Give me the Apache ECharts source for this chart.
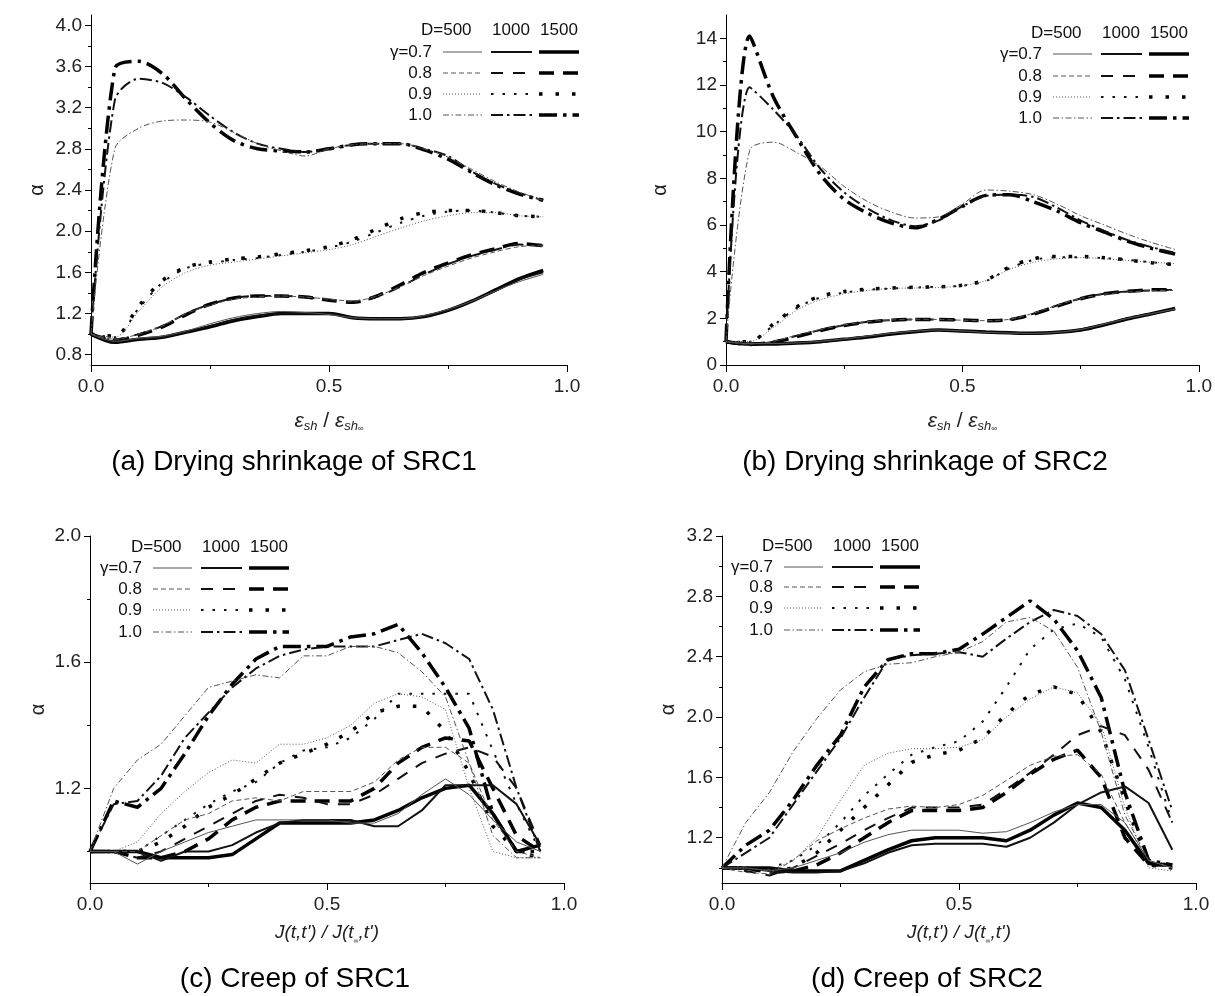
<!DOCTYPE html>
<html><head><meta charset="utf-8">
<script src="https://cdn.jsdelivr.net/npm/echarts@6/dist/echarts.min.js"></script>
<style>html,body{margin:0;padding:0;background:#fff}#c{width:1215px;height:996px}</style>
</head><body><div id="c"></div>
<script>
// ---------- shared x positions ----------
const X = [0,0.05,0.1,0.15,0.2,0.25,0.3,0.35,0.4,0.45,0.5,0.55,0.6,0.65,0.7,0.75,0.8,0.85,0.9,0.95];
const GAMMAS = ['0.7','0.8','0.9','1.0'];
const DS = [500,1000,1500];

// ---------- tick labels ----------
const xMajor = [0, 0.5, 1.0];
const xMinor = [0.25, 0.75];
const aYMajor = [0.8,1.2,1.6,2.0,2.4,2.8,3.2,3.6,4.0];
const aYMinor = [1.0,1.4,1.8,2.2,2.6,3.0,3.4,3.8];
const bYMajor = [0,2,4,6,8,10,12,14];
const bYMinor = [1,3,5,7,9,11,13];
const cYMajor = [1.2,1.6,2.0];
const cYMinor = [1.0,1.4,1.8];
const dYMajor = [1.2,1.6,2.0,2.4,2.8,3.2];
const dYMinor = [1.0,1.4,1.8,2.2,2.6,3.0];

// ---------- (a) Drying shrinkage of SRC1 ----------
const a07_500  = [1.0,0.93,0.96,0.98,1.03,1.10,1.16,1.20,1.22,1.21,1.19,1.16,1.15,1.15,1.18,1.24,1.32,1.42,1.51,1.58];
const a07_1000 = [1.0,0.93,0.95,0.97,1.02,1.08,1.14,1.18,1.20,1.20,1.20,1.16,1.15,1.15,1.17,1.23,1.32,1.42,1.53,1.60];
const a07_1500 = [1.0,0.92,0.95,0.97,1.02,1.07,1.13,1.17,1.20,1.20,1.20,1.16,1.15,1.15,1.17,1.23,1.32,1.43,1.54,1.62];
const a08_500  = [1.0,0.95,1.00,1.08,1.20,1.28,1.34,1.36,1.37,1.36,1.34,1.32,1.37,1.46,1.57,1.66,1.74,1.80,1.85,1.86];
const a08_1000 = [1.0,0.95,1.00,1.08,1.20,1.29,1.35,1.37,1.37,1.36,1.33,1.31,1.36,1.46,1.58,1.68,1.76,1.82,1.87,1.86];
const a08_1500 = [1.0,0.94,0.99,1.07,1.19,1.29,1.35,1.37,1.37,1.36,1.33,1.31,1.37,1.48,1.60,1.69,1.77,1.83,1.88,1.86];
const a09_500  = [1.0,0.97,1.22,1.46,1.60,1.67,1.70,1.73,1.76,1.79,1.82,1.87,1.95,2.03,2.10,2.15,2.18,2.18,2.15,2.14];
const a09_1000 = [1.0,0.97,1.25,1.50,1.64,1.69,1.72,1.74,1.77,1.80,1.84,1.90,1.99,2.08,2.15,2.19,2.20,2.18,2.15,2.14];
const a09_1500 = [1.0,0.98,1.27,1.52,1.65,1.70,1.73,1.75,1.78,1.81,1.85,1.92,2.02,2.12,2.18,2.20,2.20,2.18,2.15,2.14];
const a10_500  = [1.0,2.80,3.00,3.07,3.08,3.06,2.96,2.85,2.78,2.73,2.80,2.84,2.85,2.85,2.80,2.72,2.60,2.48,2.38,2.30];
const a10_1000 = [1.0,3.27,3.48,3.44,3.30,3.12,2.96,2.85,2.80,2.77,2.80,2.84,2.85,2.85,2.80,2.73,2.58,2.46,2.37,2.30];
const a10_1500 = [1.0,3.58,3.65,3.53,3.28,3.05,2.88,2.80,2.78,2.77,2.80,2.84,2.85,2.85,2.79,2.70,2.57,2.45,2.36,2.30];

// ---------- (b) Drying shrinkage of SRC2 ----------
const b07_500  = [1.0,0.92,0.92,0.95,1.02,1.12,1.24,1.36,1.45,1.50,1.46,1.40,1.37,1.35,1.40,1.52,1.75,2.00,2.20,2.40];
const b07_1000 = [1.0,0.90,0.92,0.95,1.00,1.10,1.22,1.35,1.45,1.50,1.45,1.40,1.38,1.35,1.40,1.52,1.75,2.00,2.20,2.40];
const b07_1500 = [1.0,0.90,0.90,0.94,1.00,1.10,1.20,1.33,1.43,1.50,1.46,1.41,1.38,1.36,1.40,1.50,1.72,1.98,2.20,2.42];
const b08_500  = [1.0,0.90,1.02,1.28,1.52,1.72,1.86,1.93,1.96,1.95,1.92,1.90,1.96,2.22,2.56,2.85,3.03,3.13,3.18,3.20];
const b08_1000 = [1.0,0.90,1.00,1.25,1.50,1.70,1.85,1.92,1.95,1.95,1.92,1.90,1.95,2.20,2.55,2.85,3.05,3.15,3.20,3.22];
const b08_1500 = [1.0,0.88,0.98,1.22,1.48,1.69,1.84,1.92,1.95,1.95,1.93,1.90,1.94,2.18,2.52,2.84,3.05,3.16,3.22,3.22];
const b09_500  = [1.0,1.00,1.60,2.35,2.80,3.05,3.20,3.28,3.30,3.32,3.40,3.62,4.10,4.40,4.55,4.60,4.55,4.48,4.40,4.35];
const b09_1000 = [1.0,1.00,1.70,2.45,2.90,3.10,3.22,3.28,3.32,3.35,3.40,3.60,4.15,4.50,4.62,4.62,4.58,4.50,4.40,4.30];
const b09_1500 = [1.0,1.00,1.75,2.50,2.95,3.15,3.25,3.30,3.33,3.35,3.42,3.65,4.20,4.55,4.65,4.65,4.60,4.50,4.38,4.30];
const b10_500  = [1.0,9.20,9.55,9.10,8.50,7.65,7.00,6.55,6.30,6.35,6.90,7.50,7.45,7.30,6.90,6.40,6.00,5.60,5.25,4.95];
const b10_1000 = [1.0,11.9,10.95,9.80,8.40,7.40,6.70,6.20,5.95,6.20,6.80,7.25,7.30,7.20,6.75,6.20,5.75,5.35,5.05,4.80];
const b10_1500 = [1.0,14.1,11.5,9.75,8.15,7.10,6.50,6.08,5.88,6.25,6.80,7.27,7.30,7.00,6.60,6.10,5.70,5.30,5.00,4.75];

// ---------- (c) Creep of SRC1 ----------
const c07_500  = [1.0,1.00,0.96,1.00,1.03,1.06,1.08,1.10,1.10,1.10,1.10,1.09,1.09,1.12,1.18,1.23,1.18,1.10,1.03,1.00];
const c07_1000 = [1.0,1.00,1.00,0.97,1.00,1.00,1.02,1.06,1.09,1.10,1.10,1.10,1.08,1.08,1.13,1.21,1.21,1.21,1.15,1.02];
const c07_1500 = [1.0,1.00,1.00,0.98,0.98,0.98,0.99,1.04,1.09,1.09,1.09,1.09,1.10,1.13,1.17,1.20,1.21,1.12,1.00,1.02];
const c08_500  = [1.0,1.00,1.00,1.05,1.10,1.12,1.16,1.17,1.16,1.19,1.19,1.19,1.22,1.29,1.33,1.33,1.28,1.10,1.00,0.98];
const c08_1000 = [1.0,1.00,0.98,1.00,1.04,1.08,1.12,1.16,1.18,1.17,1.15,1.15,1.18,1.23,1.28,1.31,1.33,1.30,1.20,1.02];
const c08_1500 = [1.0,1.00,0.98,0.98,1.00,1.04,1.10,1.14,1.16,1.16,1.16,1.16,1.20,1.28,1.33,1.36,1.35,1.20,1.05,1.00];
const c09_500  = [1.0,1.00,1.03,1.12,1.19,1.25,1.29,1.28,1.34,1.34,1.36,1.40,1.47,1.50,1.49,1.45,1.20,1.00,0.98,0.98];
const c09_1000 = [1.0,1.00,1.00,1.05,1.10,1.15,1.19,1.22,1.28,1.32,1.33,1.36,1.42,1.50,1.50,1.50,1.50,1.32,1.15,1.00];
const c09_1500 = [1.0,1.00,1.00,1.03,1.08,1.14,1.18,1.23,1.28,1.31,1.34,1.38,1.44,1.46,1.46,1.38,1.25,1.08,1.00,0.98];
const c10_500  = [1.0,1.20,1.29,1.34,1.43,1.52,1.54,1.56,1.55,1.62,1.62,1.65,1.65,1.63,1.57,1.49,1.28,1.05,0.98,0.98];
const c10_1000 = [1.0,1.15,1.16,1.24,1.36,1.44,1.52,1.58,1.62,1.64,1.65,1.65,1.65,1.67,1.69,1.66,1.61,1.45,1.20,1.00];
const c10_1500 = [1.0,1.16,1.14,1.20,1.31,1.43,1.53,1.61,1.65,1.65,1.65,1.68,1.69,1.72,1.63,1.52,1.39,1.12,1.00,1.00];

// ---------- (d) Creep of SRC2 ----------
const d07_500  = [1.0,1.00,0.98,1.00,1.05,1.10,1.17,1.22,1.25,1.25,1.25,1.23,1.24,1.30,1.37,1.42,1.42,1.30,1.05,1.00];
const d07_1000 = [1.0,1.00,0.98,0.97,0.97,0.98,1.03,1.10,1.15,1.16,1.16,1.16,1.14,1.20,1.30,1.42,1.50,1.54,1.43,1.12];
const d07_1500 = [1.0,1.00,1.00,0.98,0.98,0.98,1.05,1.12,1.18,1.20,1.20,1.20,1.18,1.25,1.35,1.43,1.40,1.25,1.03,1.02];
const d08_500  = [1.0,0.97,0.96,1.05,1.18,1.26,1.33,1.39,1.41,1.40,1.42,1.48,1.58,1.68,1.74,1.75,1.62,1.30,1.05,1.00];
const d08_1000 = [1.0,0.98,0.95,1.00,1.08,1.16,1.25,1.33,1.40,1.40,1.40,1.42,1.52,1.63,1.75,1.88,1.94,1.88,1.65,1.30];
const d08_1500 = [1.0,1.00,0.97,0.98,1.02,1.10,1.20,1.30,1.38,1.38,1.38,1.40,1.50,1.62,1.72,1.78,1.60,1.20,1.02,1.02];
const d09_500  = [1.0,1.00,0.98,1.05,1.20,1.45,1.68,1.76,1.79,1.79,1.80,1.85,2.00,2.12,2.20,2.16,1.95,1.40,1.00,0.98];
const d09_1000 = [1.0,1.00,1.00,1.05,1.15,1.30,1.48,1.62,1.75,1.80,1.84,1.97,2.20,2.45,2.58,2.62,2.53,2.25,1.80,1.30];
const d09_1500 = [1.0,1.00,0.97,1.00,1.10,1.25,1.40,1.55,1.70,1.75,1.78,1.86,2.02,2.15,2.20,2.15,1.90,1.45,1.02,1.00];
const d10_500  = [1.0,1.30,1.50,1.77,1.99,2.18,2.30,2.35,2.36,2.40,2.43,2.50,2.63,2.66,2.57,2.33,1.90,1.35,1.05,1.00];
const d10_1000 = [1.0,1.10,1.20,1.42,1.64,1.86,2.13,2.38,2.41,2.42,2.43,2.40,2.52,2.63,2.71,2.67,2.55,2.31,1.85,1.38];
const d10_1500 = [1.0,1.15,1.25,1.45,1.68,1.88,2.20,2.38,2.42,2.42,2.45,2.55,2.66,2.77,2.65,2.44,2.13,1.50,1.05,1.02];

const SETS = {
  a: {'0.7':{500:a07_500,1000:a07_1000,1500:a07_1500},'0.8':{500:a08_500,1000:a08_1000,1500:a08_1500},
      '0.9':{500:a09_500,1000:a09_1000,1500:a09_1500},'1.0':{500:a10_500,1000:a10_1000,1500:a10_1500}},
  b: {'0.7':{500:b07_500,1000:b07_1000,1500:b07_1500},'0.8':{500:b08_500,1000:b08_1000,1500:b08_1500},
      '0.9':{500:b09_500,1000:b09_1000,1500:b09_1500},'1.0':{500:b10_500,1000:b10_1000,1500:b10_1500}},
  c: {'0.7':{500:c07_500,1000:c07_1000,1500:c07_1500},'0.8':{500:c08_500,1000:c08_1000,1500:c08_1500},
      '0.9':{500:c09_500,1000:c09_1000,1500:c09_1500},'1.0':{500:c10_500,1000:c10_1000,1500:c10_1500}},
  d: {'0.7':{500:d07_500,1000:d07_1000,1500:d07_1500},'0.8':{500:d08_500,1000:d08_1000,1500:d08_1500},
      '0.9':{500:d09_500,1000:d09_1000,1500:d09_1500},'1.0':{500:d10_500,1000:d10_1000,1500:d10_1500}}
};

// ---------- styles ----------
const FONT = "'Liberation Sans', Arial, sans-serif";
const WIDTH = {500:1, 1000:2, 1500:3.5};
const COLOR = {500:'#555', 1000:'#111', 1500:'#000'};
const DASH = {
  '0.7': {500:'solid',1000:'solid',1500:'solid'},
  '0.8': {500:[5,3],1000:[12,10],1500:[15,9]},
  '0.9': {500:[1,2],1000:[2.5,9],1500:[3.5,13]},
  '1.0': {500:[6,2.5,1.5,2.5],1000:[12,4,2.5,4],1500:[18,6,3.5,6]}
};

const epsName = '{e|ε}{s|sh}{d| / }{e|ε}{s|sh}{i|∞}';
const epsRich = {
  e:{fontSize:21,fontStyle:'italic',fontFamily:FONT,color:'#222',lineHeight:24,verticalAlign:'middle'},
  s:{fontSize:13,fontStyle:'italic',fontFamily:FONT,color:'#222',lineHeight:12,verticalAlign:'bottom'},
  i:{fontSize:8,fontFamily:FONT,color:'#222',lineHeight:9,verticalAlign:'bottom'},
  d:{fontSize:21,fontFamily:FONT,color:'#222',lineHeight:24,verticalAlign:'middle'}
};
const jName = "{j|J(t,t') / J(t}{i|∞}{j|,t')}";
const jRich = {
  j:{fontSize:19,fontStyle:'italic',fontFamily:FONT,color:'#222',lineHeight:24,verticalAlign:'middle'},
  i:{fontSize:7,fontFamily:FONT,color:'#222',lineHeight:8,verticalAlign:'bottom'}
};

const PANELS = [
  {key:'a', grid:{left:91,top:15,width:476,height:350}, ymin:0.7, ymax:4.1, yMajor:aYMajor, yMinor:aYMinor, dec:1,
   smooth:0.3, xName:epsName, xRich:epsRich, xGap:44, yGap:44, caption:'(a) Drying shrinkage of SRC1', cap:[294,462], leg:[432,30,[52,73,94,115]]},
  {key:'b', grid:{left:726,top:15,width:473,height:350}, ymin:0, ymax:15, yMajor:bYMajor, yMinor:bYMinor, dec:0,
   smooth:0.3, xName:epsName, xRich:epsRich, xGap:44, yGap:56, caption:'(b) Drying shrinkage of SRC2', cap:[925,462], leg:[1042,33,[54,76,97,118]]},
  {key:'c', grid:{left:90,top:536,width:474,height:347}, ymin:0.9, ymax:2.0, yMajor:cYMajor, yMinor:cYMinor, dec:1,
   smooth:false, xName:jName, xRich:jRich, xGap:38, yGap:42, caption:'(c) Creep of SRC1', cap:[295,979], leg:[142,547,[568,589,610,632]]},
  {key:'d', grid:{left:722,top:536,width:474,height:347}, ymin:0.9, ymax:3.2, yMajor:dYMajor, yMinor:dYMinor, dec:1,
   smooth:false, xName:jName, xRich:jRich, xGap:38, yGap:44, caption:'(d) Creep of SRC2', cap:[927,979], leg:[773,546,[567,587,608,630]]}
];

const grids=[], xAxes=[], yAxes=[], series=[], graphics=[];
PANELS.forEach((p, gi) => {
  grids.push(Object.assign({containLabel:false}, p.grid));
  const axLine = {show:true, onZero:false, lineStyle:{color:'#000', width:1}};
  xAxes.push({type:'value', gridIndex:gi, min:0, max:1, position:'bottom',
    axisLine:axLine, splitLine:{show:false},
    axisTick:{show:true, length:7, customValues:xMajor, lineStyle:{color:'#000'}},
    axisLabel:{show:true, customValues:xMajor, formatter:v=>v.toFixed(1), fontSize:19, color:'#222', fontFamily:FONT, margin:12},
    name:p.xName, nameLocation:'middle', nameGap:p.xGap, nameTextStyle:{rich:p.xRich}});
  xAxes.push({type:'value', gridIndex:gi, min:0, max:1, position:'bottom',
    axisLine:{show:false}, splitLine:{show:false}, axisLabel:{show:false},
    axisTick:{show:true, length:4, customValues:xMinor, lineStyle:{color:'#000'}}});
  yAxes.push({type:'value', gridIndex:gi, min:p.ymin, max:p.ymax, position:'left',
    axisLine:axLine, splitLine:{show:false},
    axisTick:{show:true, length:6, customValues:p.yMajor, lineStyle:{color:'#000'}},
    axisLabel:{show:true, customValues:p.yMajor, formatter:v=>v.toFixed(p.dec), fontSize:19, color:'#222', fontFamily:FONT, margin:9},
    name:'α', nameLocation:'middle', nameRotate:90, nameGap:p.yGap,
    nameTextStyle:{fontSize:20, color:'#222', fontFamily:FONT}});
  yAxes.push({type:'value', gridIndex:gi, min:p.ymin, max:p.ymax, position:'left',
    axisLine:{show:false}, splitLine:{show:false}, axisLabel:{show:false},
    axisTick:{show:true, length:3, customValues:p.yMinor, lineStyle:{color:'#000'}}});

  const set = SETS[p.key];
  [1500,1000,500].forEach(D => {
    GAMMAS.forEach(g => {
      series.push({type:'line', name:p.key+' γ='+g+' D='+D, xAxisIndex:2*gi, yAxisIndex:2*gi,
        data:X.map((x,i)=>[x, set[g][D][i]]), symbol:'none', smooth:p.smooth, silent:true,
        lineStyle:{color:COLOR[D], width:WIDTH[D], type:DASH[g][D]}, z:2});
    });
  });

  // caption
  graphics.push({type:'text', x:p.cap[0], y:p.cap[1], silent:true,
    style:{text:p.caption, font:'28px '+FONT, fill:'#000', align:'center', verticalAlign:'middle'}});

  // legend table
  const [lx, hy, rows] = p.leg;
  graphics.push({type:'text', x:lx-11, y:hy, style:{text:'D=500', font:'17px '+FONT, fill:'#111', align:'left', verticalAlign:'middle'}});
  graphics.push({type:'text', x:lx+79, y:hy, style:{text:'1000', font:'17px '+FONT, fill:'#111', align:'center', verticalAlign:'middle'}});
  graphics.push({type:'text', x:lx+127, y:hy, style:{text:'1500', font:'17px '+FONT, fill:'#111', align:'center', verticalAlign:'middle'}});
  const cols = [[11,50],[59,100],[107,147]];
  GAMMAS.forEach((g, ri) => {
    const ry = rows[ri];
    graphics.push({type:'text', x:lx, y:ry, style:{text:(ri===0?'γ=':'')+g, font:'17px '+FONT, fill:'#111', align:'right', verticalAlign:'middle'}});
    DS.forEach((D, ci) => {
      const dash = DASH[g][D];
      graphics.push({type:'line', silent:true,
        shape:{x1:lx+cols[ci][0], y1:ry, x2:lx+cols[ci][1], y2:ry},
        style:{stroke:COLOR[D], lineWidth:WIDTH[D], lineDash: dash==='solid'?null:dash}});
    });
  });
});

const chart = echarts.init(document.getElementById('c'), null, {renderer:'canvas'});
chart.setOption({
  animation:false, backgroundColor:'#fff',
  grid:grids, xAxis:xAxes, yAxis:yAxes, series:series, graphic:graphics
});
</script></body></html>
